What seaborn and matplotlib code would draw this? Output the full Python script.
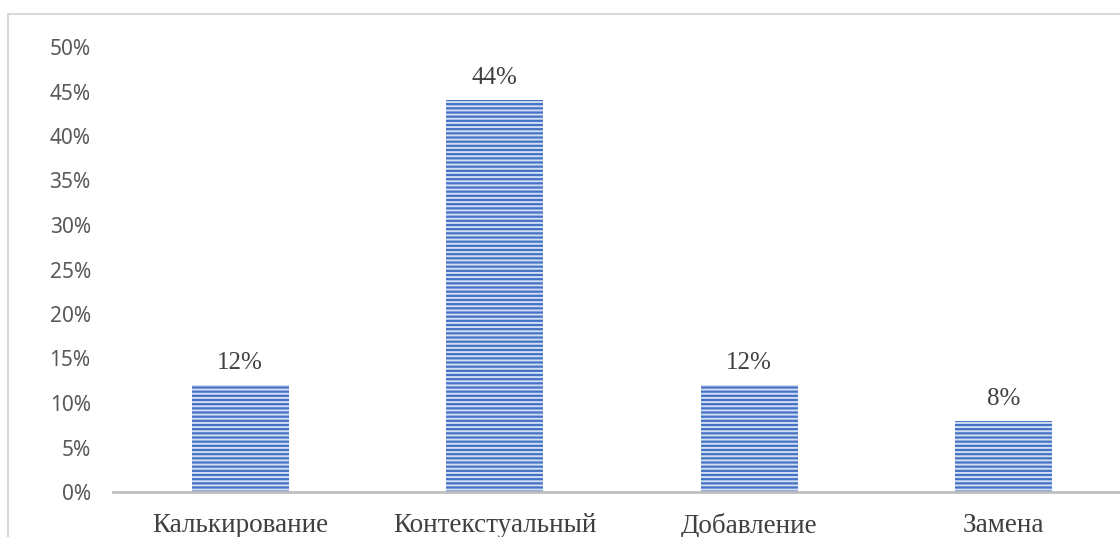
import matplotlib
matplotlib.use("Agg")
import matplotlib.pyplot as plt
from matplotlib.patches import Rectangle
from matplotlib.ticker import PercentFormatter, MultipleLocator
import seaborn as sns
import pandas as pd

categories = ["Калькирование", "Контекстуальный", "Добавление", "Замена"]
values = [0.12, 0.44, 0.12, 0.08]
value_labels = ["12%", "44%", "12%", "8%"]

sns.set_theme(style="white")
plt.rcParams["hatch.linewidth"] = 1.4

df = pd.DataFrame({"cat": categories, "val": values})

fig = plt.figure(figsize=(11.2, 5.37), dpi=100)
ax = fig.add_axes([113 / 1120, 1 - 492 / 537, (4 * 254.5) / 1120, (492 - 47) / 537])

sns.barplot(data=df, x="cat", y="val", ax=ax, color="#4472C4", width=0.38,
            saturation=1, edgecolor="#D3DEF2", linewidth=0, hatch="----")

for p in ax.patches:
    p.set_facecolor("#4472C4")
    p.set_edgecolor("#D3DEF2")
    p.set_linewidth(0)

ax.set_ylim(0, 0.5)
ax.set_xlim(-0.5, 3.5)
ax.yaxis.set_major_locator(MultipleLocator(0.05))
ax.yaxis.set_major_formatter(PercentFormatter(1.0, decimals=0))
ax.set_xlabel("")
ax.set_ylabel("")

for s in ["top", "right", "left"]:
    ax.spines[s].set_visible(False)
ax.spines["bottom"].set_color("#BFBFBF")
ax.spines["bottom"].set_linewidth(2)

ax.tick_params(axis="y", length=0, pad=16, labelsize=15, labelcolor="#595959")
ax.tick_params(axis="x", length=0, pad=15, labelsize=19.5, labelcolor="#404040")
for lab in ax.get_yticklabels():
    lab.set_fontfamily("Noto Sans")
for lab in ax.get_xticklabels():
    lab.set_fontfamily("Liberation Serif")

for i, (v, t) in enumerate(zip(values, value_labels)):
    ax.annotate(t, (i, v), xytext=(0, 8), textcoords="offset points",
                ha="center", va="bottom", fontsize=18, color="#404040",
                family="Liberation Serif")

fig.patches.append(Rectangle((8 / 1120, -0.2), 1.5, 1.2 - 14 / 537,
                             transform=fig.transFigure, fill=False,
                             edgecolor="#D9D9D9", linewidth=1.5))

fig.savefig("out.png", dpi=100)
